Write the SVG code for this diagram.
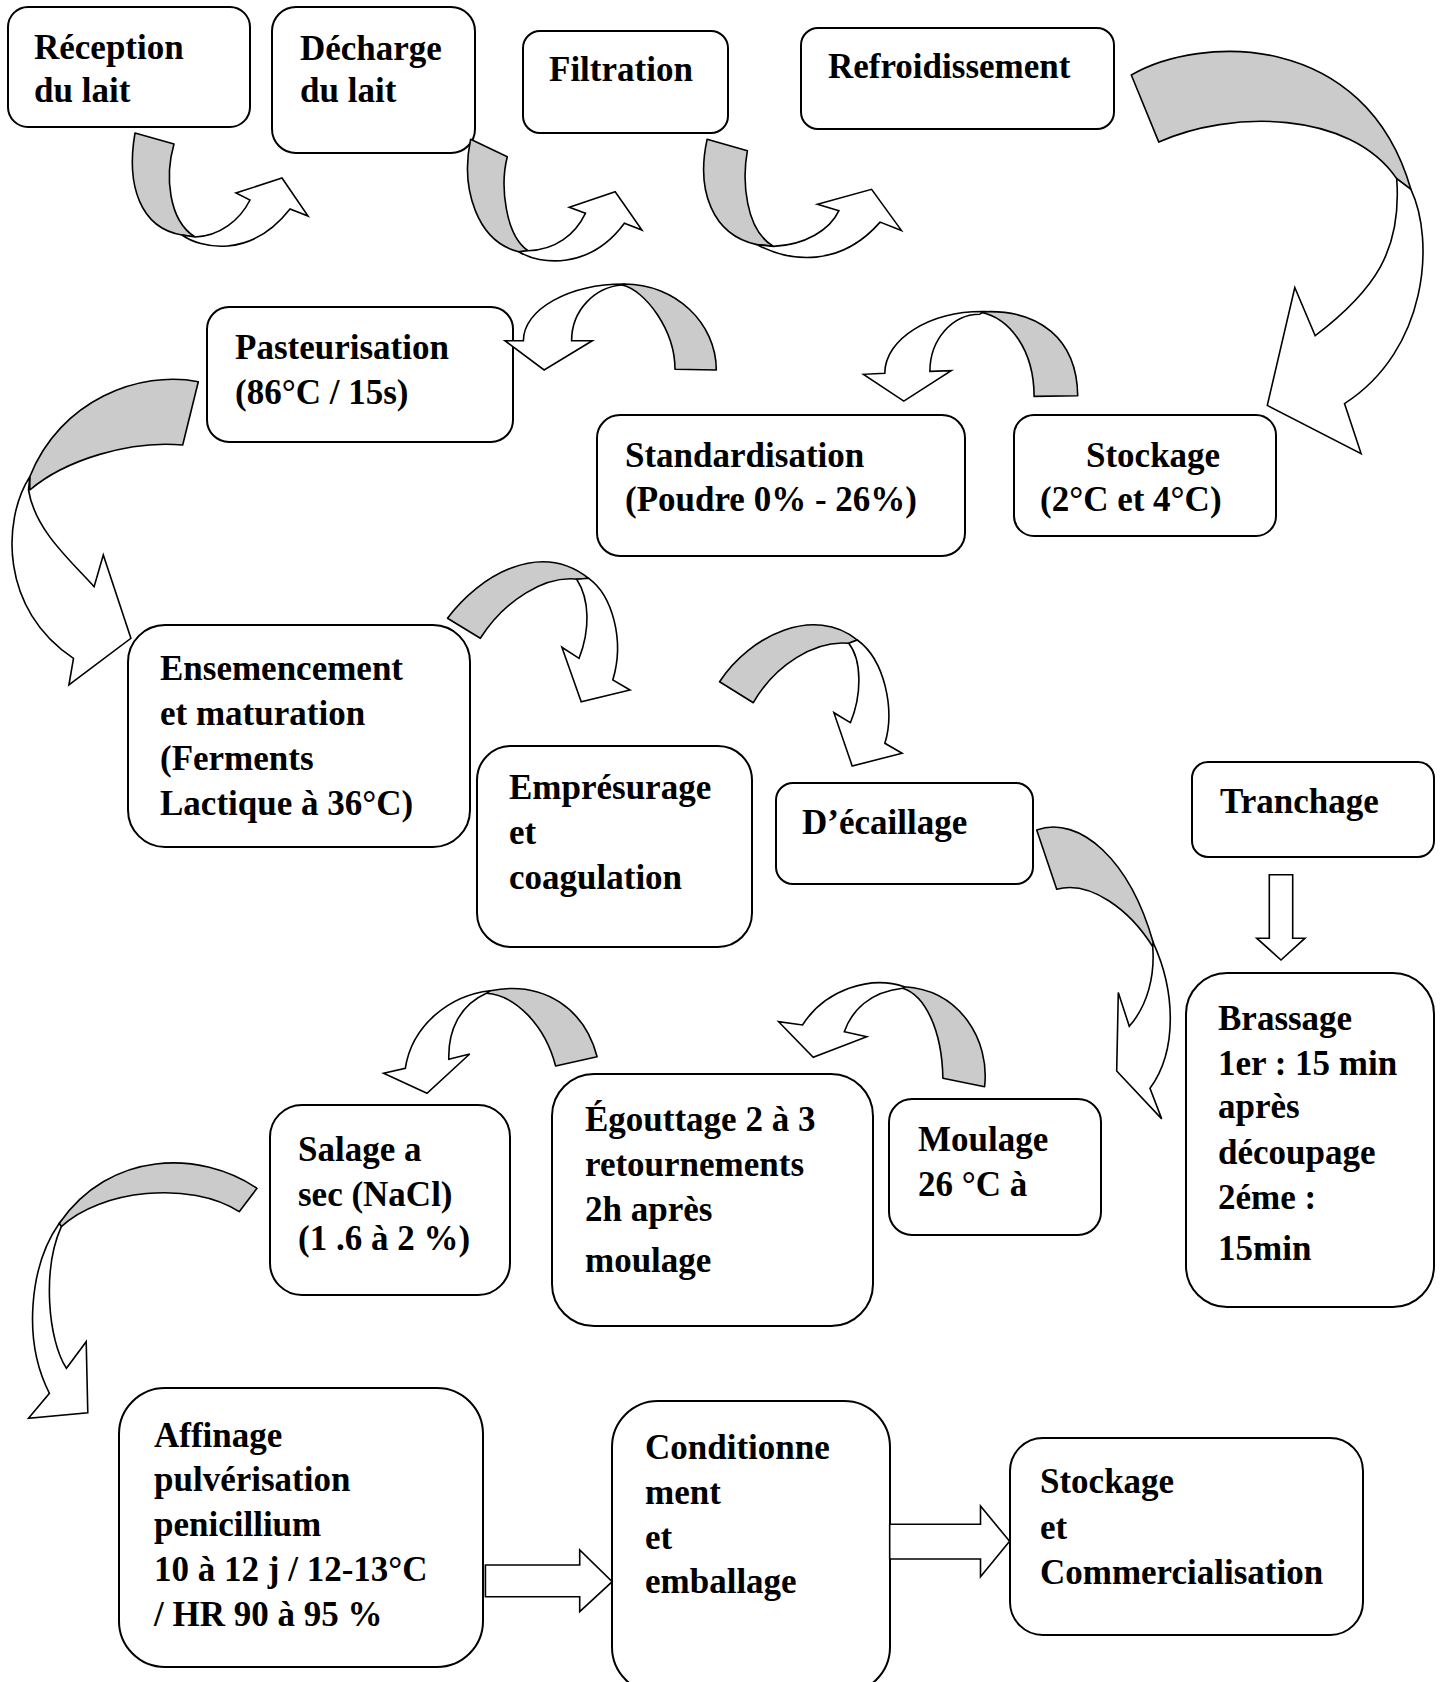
<svg xmlns="http://www.w3.org/2000/svg" width="1443" height="1682" viewBox="0 0 1443 1682">
<style>
.box{fill:#fff;stroke:#000;stroke-width:2}
.lbl{font-family:"Liberation Serif","Times New Roman",serif;font-size:35px;font-weight:bold;fill:#000}
.back{fill:#cbcbcb;stroke:#000;stroke-width:1.6;stroke-linejoin:round}
.front{fill:#fff;stroke:#000;stroke-width:1.6;stroke-linejoin:miter}
</style>
<rect width="1443" height="1682" fill="#fff"/>
<g id="nodes">
<g id="n-reception"><rect class="box" x="8" y="7" width="242" height="120" rx="20"/><text class="lbl" x="34" y="59">Réception</text><text class="lbl" x="34" y="102">du lait</text></g>
<g id="n-decharge"><rect class="box" x="272" y="7" width="203" height="146" rx="24"/><text class="lbl" x="300" y="60">Décharge</text><text class="lbl" x="300" y="102">du lait</text></g>
<g id="n-filtration"><rect class="box" x="523" y="31" width="205" height="102" rx="17"/><text class="lbl" x="549" y="81">Filtration</text></g>
<g id="n-refroidissement"><rect class="box" x="801" y="28" width="313" height="101" rx="17"/><text class="lbl" x="828" y="78">Refroidissement</text></g>
<g id="n-stockage1"><rect class="box" x="1014" y="415" width="262" height="121" rx="20"/><text class="lbl" x="1086" y="467">Stockage</text><text class="lbl" x="1040" y="511">(2°C et 4°C)</text></g>
<g id="n-standardisation"><rect class="box" x="597" y="415" width="368" height="141" rx="23"/><text class="lbl" x="625" y="467">Standardisation</text><text class="lbl" x="625" y="511">(Poudre 0% - 26%)</text></g>
<g id="n-pasteurisation"><rect class="box" x="207" y="307" width="306" height="135" rx="22"/><text class="lbl" x="235" y="359">Pasteurisation</text><text class="lbl" x="235" y="404">(86°C / 15s)</text></g>
<g id="n-ensemencement"><rect class="box" x="128" y="625" width="342" height="222" rx="37"/><text class="lbl" x="160" y="680">Ensemencement</text><text class="lbl" x="160" y="725">et maturation</text><text class="lbl" x="160" y="770">(Ferments</text><text class="lbl" x="160" y="815">Lactique à 36°C)</text></g>
<g id="n-empresurage"><rect class="box" x="477" y="746" width="275" height="201" rx="34"/><text class="lbl" x="509" y="799">Emprésurage</text><text class="lbl" x="509" y="844">et</text><text class="lbl" x="509" y="889">coagulation</text></g>
<g id="n-decaillage"><rect class="box" x="776" y="783" width="257" height="101" rx="17"/><text class="lbl" x="802" y="834">D’écaillage</text></g>
<g id="n-tranchage"><rect class="box" x="1192" y="762" width="242" height="95" rx="16"/><text class="lbl" x="1220" y="813">Tranchage</text></g>
<g id="n-brassage"><rect class="box" x="1186" y="973" width="248" height="334" rx="41"/><text class="lbl" x="1218" y="1030">Brassage</text><text class="lbl" x="1218" y="1075">1er : 15 min</text><text class="lbl" x="1218" y="1118">après</text><text class="lbl" x="1218" y="1164">découpage</text><text class="lbl" x="1218" y="1209">2éme :</text><text class="lbl" x="1218" y="1260">15min</text></g>
<g id="n-moulage"><rect class="box" x="889" y="1099" width="212" height="136" rx="23"/><text class="lbl" x="918" y="1151">Moulage</text><text class="lbl" x="918" y="1196">26 °C à</text></g>
<g id="n-egouttage"><rect class="box" x="552" y="1074" width="321" height="252" rx="42"/><text class="lbl" x="585" y="1131">Égouttage 2 à 3</text><text class="lbl" x="585" y="1176">retournements</text><text class="lbl" x="585" y="1221">2h après</text><text class="lbl" x="585" y="1272">moulage</text></g>
<g id="n-salage"><rect class="box" x="270" y="1105" width="240" height="190" rx="32"/><text class="lbl" x="298" y="1161">Salage a</text><text class="lbl" x="298" y="1206">sec (NaCl)</text><text class="lbl" x="298" y="1250">(1 .6 à 2 %)</text></g>
<g id="n-affinage"><rect class="box" x="119" y="1388" width="364" height="279" rx="46"/><text class="lbl" x="154" y="1447">Affinage</text><text class="lbl" x="154" y="1491">pulvérisation</text><text class="lbl" x="154" y="1536">penicillium</text><text class="lbl" x="154" y="1581">10 à 12 j / 12-13°C</text><text class="lbl" x="154" y="1626">/ HR 90 à 95 %</text></g>
<g id="n-conditionnement"><rect class="box" x="612" y="1401" width="278" height="292" rx="46"/><text class="lbl" x="645" y="1459">Conditionne</text><text class="lbl" x="645" y="1504">ment</text><text class="lbl" x="645" y="1549">et</text><text class="lbl" x="645" y="1593">emballage</text></g>
<g id="n-stockage2"><rect class="box" x="1010" y="1438" width="353" height="197" rx="33"/><text class="lbl" x="1040" y="1493">Stockage</text><text class="lbl" x="1040" y="1539">et</text><text class="lbl" x="1040" y="1584">Commercialisation</text></g>
</g>
<g id="connectors">
<g id="a1"><path class="back" d="M135,133 L174,144 C165,175 168,220 195,237 L182,235 C140,228 126,185 135,133 Z"/><path class="front" d="M182,235 C200,248 250,260 290,209 L308,216 L282,178 L236,193 L250,200 C240,220 220,236 195,237 Z"/></g>
<g id="a2"><path class="back" d="M470.6,139.3 L507.3,156.7 C500,185 505,235 528,250.7 L518.8,251.7 C478,242 460,190 470.6,139.3 Z"/><path class="front" d="M518.8,251.7 C540,265 590,270 624.4,223.3 L641.9,230 L615.2,191.7 L569.3,207.3 L585.4,213.3 C575,235 555,250 528,250.7 Z"/></g>
<g id="a3"><path class="back" d="M707.1,139.3 L747.4,150.7 C742,180 745,230 773.5,246.4 L756.9,244.6 C712,235 696,190 707.1,139.3 Z"/><path class="front" d="M756.9,244.6 C790,262 840,268 880.1,222.1 L901.4,230.4 L871.6,189.3 L817.5,204.3 L838.9,210.7 C830,230 805,245 773.5,246.4 Z"/></g>
<g id="a4"><path class="back" d="M1131.3,75 C1200,35 1365,30 1410.9,189.3 L1396.7,178.6 C1350,110 1230,110 1158.8,142.1 Z"/><path class="front" d="M1410.9,189.3 C1435,240 1428,350 1344.5,403.6 L1361.1,453.6 L1267.3,405.4 L1294.8,287.5 L1315.2,335.7 C1375,290 1402,250 1396.7,178.6 Z"/></g>
<g id="a5"><path class="back" d="M1034.1,396.4 L1077.7,395.7 C1077,340 1040,308 980,312 C1010,318 1034,350 1034.1,396.4 Z"/><path class="front" d="M984,311.5 C929.5,311 885,339 884.8,373.2 L863.5,374.3 L903.8,401.1 L951.2,370.7 L929.9,371.4 C929.9,340 952,314.3 979.6,314.3 Z"/></g>
<g id="a6"><path class="back" d="M675,369.3 L716.3,370 C716.3,322.7 675,284 624.4,284 L622.1,285 C645,290 675,330 675,369.3 Z"/><path class="front" d="M624.4,284 C568.8,284 523.4,309.4 523.4,340.7 L505,340.7 L544.1,370 L592.3,340.7 L571.6,340.7 C571.6,310 595,287 622.1,285 Z"/></g>
<g id="a7"><path class="back" d="M198.3,381.7 C140,370 60,400 29.8,476.7 L29.8,490 C65,460 130,440 182.7,445 Z"/><path class="front" d="M29.8,476.7 C2,520 0,610 73.5,658.3 L68.9,685 L130.9,638.3 L103.3,555 L94.1,586.7 C70,560 35,530 28.5,490 Z"/></g>
<g id="a8"><path class="back" d="M447.5,618.3 C480,575 540,540 588.7,578.3 L578.4,579.3 C545,575 505,600 480.3,638.3 Z"/><path class="front" d="M588.7,578.3 C612,595 625,640 612.8,680 L630,690 L581.2,701.7 L561.9,647.3 L579.1,658.3 C590,630 590,600 576.7,579.3 Z"/></g>
<g id="a9"><path class="back" d="M719.6,681.7 C750,635 815,605 857.3,640 L848.7,643.3 C815,640 775,665 753.3,702.7 Z"/><path class="front" d="M857.3,640 C885,660 895,710 884.9,743.3 L902.1,753.3 L852.2,766 L833.9,712.7 L850.4,722.7 C862,695 862,660 848.7,643.3 Z"/></g>
<g id="a10"><path class="back" d="M1036.7,829.9 C1080,815 1130,860 1153.3,942.8 L1152.7,946.7 C1130,910 1090,880 1056.7,889.3 Z"/><path class="front" d="M1153.3,942.8 C1175,990 1178,1050 1150,1088.3 L1161.7,1118.9 L1116.7,1071 L1118.3,992.6 L1129.3,1026.3 C1148,1005 1155,975 1152.7,946.7 Z"/></g>
<g id="a11"><path class="front" d="M1269.3,874.7 L1292.7,874.7 L1292.7,938.2 L1305,938.2 L1281,960 L1256.7,938.2 L1269.3,938.2 Z"/></g>
<g id="a12"><path class="back" d="M942.9,1078.3 L984.6,1086.7 C990,1040 960,990 904.3,986.7 L902.5,988.3 C925,995 942,1030 942.9,1078.3 Z"/><path class="front" d="M904.3,986.7 C870,975 825,990 802.5,1025 L778.6,1021.7 L813.2,1057.3 L866.8,1036.7 L844.3,1031.7 C852,1010 870,992 902.5,988.3 Z"/></g>
<g id="a13"><path class="back" d="M555.6,1066 L597.1,1056.7 C585,1010 545,980 490.3,990.7 L486.4,993.3 C515,995 545,1025 555.6,1066 Z"/><path class="front" d="M490.3,990.7 C450,995 412,1025 405.3,1068.3 L383.6,1073.3 L427,1093.3 L469.7,1054 L448.8,1059.3 C448,1030 460,1005 486.4,993.3 Z"/></g>
<g id="a14"><path class="back" d="M239.2,1211.7 L257,1188.3 C200,1150 110,1150 59.3,1223.3 L61.3,1226.7 C100,1190 190,1180 239.2,1211.7 Z"/><path class="front" d="M59.3,1223.3 C30,1265 22,1340 49.4,1393.3 L28.5,1418.3 L87.8,1412.7 L86.2,1341.7 L66.4,1368.3 C48,1340 42,1270 61.3,1226.7 Z"/></g>
<g id="a15"><path class="front" d="M485.4,1565 L579.7,1565 L579.7,1550 L612.2,1581.7 L579.7,1611.7 L579.7,1596.7 L485.4,1596.7 Z"/></g>
<g id="a16"><path class="front" d="M889.7,1524.3 L980.5,1524.3 L980.5,1506 L1009.6,1541.3 L980.5,1576.7 L980.5,1559 L889.7,1559 Z"/></g>
</g>
</svg>
